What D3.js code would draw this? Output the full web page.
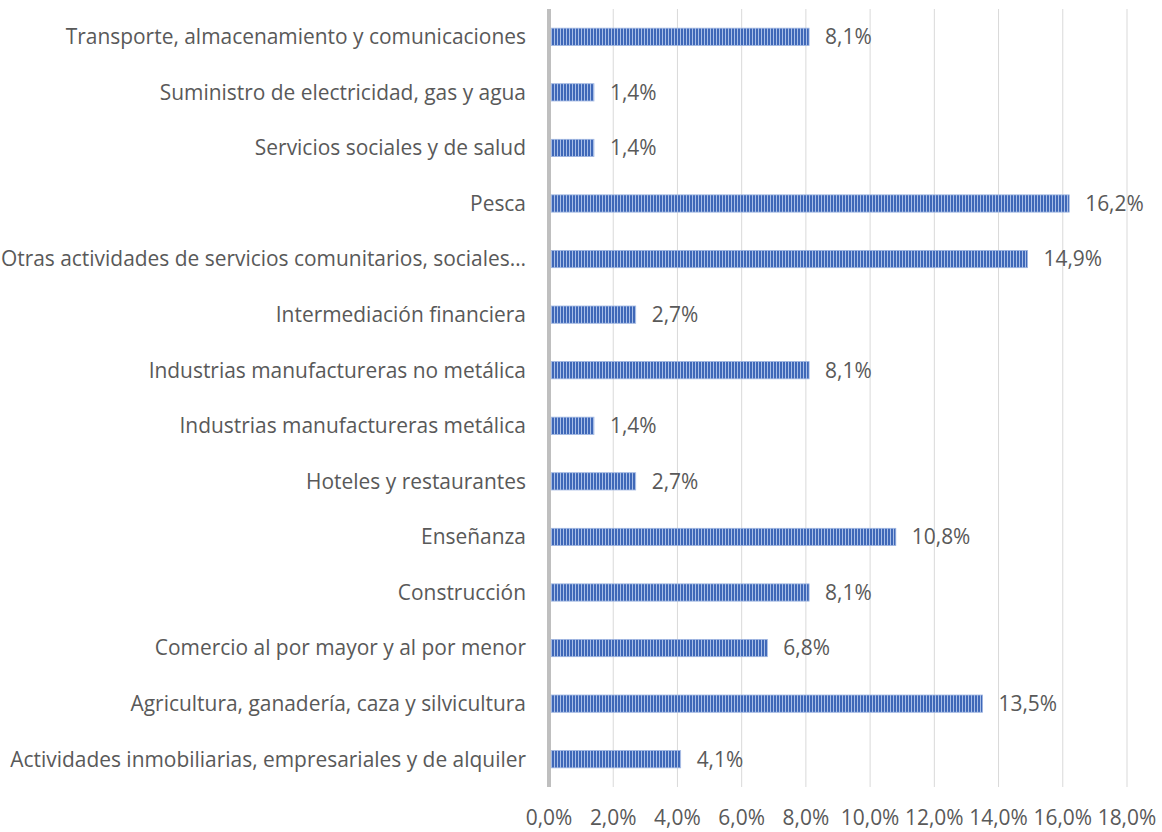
<!DOCTYPE html>
<html>
<head>
<meta charset="utf-8">
<script src="https://cdn.jsdelivr.net/npm/d3@7"></script>
<style>
  html, body { margin: 0; padding: 0; background: #fff; }
  svg { display: block; }
  text { font-family: "Open Sans", sans-serif; fill: #595959; }
</style>
</head>
<body>
<div id="chart"></div>
<script>
// categories, top to bottom as shown
const categories = [
    'Transporte, almacenamiento y comunicaciones',
    'Suministro de electricidad, gas y agua',
    'Servicios sociales y de salud',
    'Pesca',
    'Otras actividades de servicios comunitarios, sociales…',
    'Intermediación financiera',
    'Industrias manufactureras no metálica',
    'Industrias manufactureras metálica',
    'Hoteles y restaurantes',
    'Enseñanza',
    'Construcción',
    'Comercio al por mayor y al por menor',
    'Agricultura, ganadería, caza y silvicultura',
    'Actividades inmobiliarias, empresariales y de alquiler'
];
const values = [8.1, 1.4, 1.4, 16.2, 14.9, 2.7, 8.1, 1.4, 2.7, 10.8, 8.1, 6.8, 13.5, 4.1];
const tickValues = [0, 2, 4, 6, 8, 10, 12, 14, 16, 18];

const width = 1162, height = 832;
const fmt = v => v.toFixed(1).replace('.', ',') + '%';

const svg = d3.select('#chart').append('svg')
    .attr('width', width).attr('height', height);

// pick a font size so the longest label spans like the original (~516px)
const probe = svg.append('text').style('font-size', '20px')
    .text('Actividades inmobiliarias, empresariales y de alquiler');
const fs = Math.min(22, 20 * 516 / probe.node().getComputedTextLength());
probe.remove();

// striped fill for bars
const defs = svg.append('defs');
const pat = defs.append('pattern')
    .attr('id', 'stripes')
    .attr('patternUnits', 'userSpaceOnUse')
    .attr('width', 3).attr('height', 10);
pat.append('rect').attr('width', 3).attr('height', 10).attr('fill', '#a9bfe8');
pat.append('rect').attr('width', 2).attr('height', 10).attr('fill', '#3f68b8');

const x = d3.scaleLinear().domain([0, 18]).range([549, 1127]);
const y = d3.scaleBand().domain(categories).range([9, 787]).paddingInner(0.69).paddingOuter(0.345);

// gridlines
svg.append('g').selectAll('line')
    .data(tickValues.slice(1))
    .join('line')
    .attr('x1', d => x(d)).attr('x2', d => x(d))
    .attr('y1', 9).attr('y2', 787)
    .attr('stroke', '#d9d9d9').attr('stroke-width', 1);

// bars
svg.append('g').selectAll('rect')
    .data(values)
    .join('rect')
    .attr('x', x(0) + 2)
    .attr('y', (d, i) => y(categories[i]))
    .attr('width', d => x(d) - x(0) - 2)
    .attr('height', y.bandwidth())
    .attr('fill', 'url(#stripes)')
    .attr('stroke', '#9db4e0').attr('stroke-width', 0.8);

// value labels
svg.append('g').selectAll('text')
    .data(values)
    .join('text')
    .attr('x', d => x(d) + 16)
    .attr('y', (d, i) => y(categories[i]) + y.bandwidth() / 2)
    .attr('dy', '0.35em')
    .style('font-size', fs + 'px')
    .text(fmt);

// category labels
svg.append('g').selectAll('text')
    .data(categories)
    .join('text')
    .attr('x', 526)
    .attr('y', d => y(d) + y.bandwidth() / 2)
    .attr('dy', '0.35em')
    .attr('text-anchor', 'end')
    .style('font-size', fs + 'px')
    .text(d => d);

// vertical axis line
svg.append('line')
    .attr('x1', x(0)).attr('x2', x(0))
    .attr('y1', 9).attr('y2', 787)
    .attr('stroke', '#bfbfbf').attr('stroke-width', 4);

// x tick labels
svg.append('g').selectAll('text')
    .data(tickValues)
    .join('text')
    .attr('x', d => x(d))
    .attr('y', 818)
    .attr('dy', '0.35em')
    .attr('text-anchor', 'middle')
    .style('font-size', fs + 'px')
    .text(fmt);
</script>
</body>
</html>
